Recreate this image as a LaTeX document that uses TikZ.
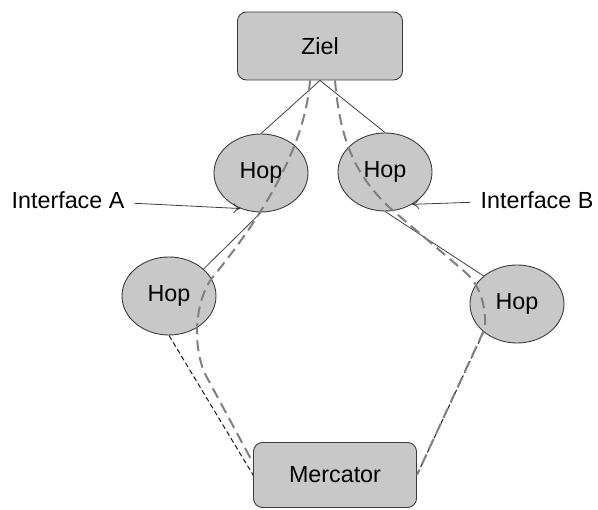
\documentclass[tikz,border=0pt]{standalone}
\usepackage{fontspec}
\setmainfont{Liberation Sans}
\usetikzlibrary{shapes.geometric,arrows.meta}
\definecolor{nodefill}{RGB}{200,200,200}
\definecolor{routegray}{RGB}{128,128,128}
\definecolor{edgegray}{RGB}{60,60,60}

\begin{document}
\begin{tikzpicture}[x=1pt,y=-1pt,-,>={To[length=7pt,width=10pt]},
  hop node/.style={ellipse,draw=edgegray,fill=nodefill,line width=0.9pt,minimum width=94pt,minimum height=78pt,inner sep=0pt,font=\fontsize{23.3}{28}\selectfont},
  box node/.style={rectangle,rounded corners=9pt,draw=edgegray,fill=nodefill,line width=0.9pt,inner sep=0pt,font=\fontsize{23.3}{28}\selectfont},
  label node/.style={inner sep=6pt,font=\fontsize{23.3}{28}\selectfont},
  link/.style={draw=black!75,line width=0.8pt},
  weak link/.style={draw=black!90,line width=1pt,dash pattern=on 5pt off 3pt},
  route/.style={draw=routegray,line width=2pt,dash pattern=on 11pt off 6pt}]
            \useasboundingbox (0,0) rectangle (598,510);

            \node[box node,minimum width=165pt,minimum height=68pt] (ziel) at (320,46) {Ziel};
            \node[hop node] (hop1) at (261,173) {Hop};
            \node[hop node] (hop2) at (385,172) {Hop};
            \node[hop node] (hop3) at (169,296) {Hop};
            \node[hop node] (hop4) at (517,304) {Hop};
            \node[box node,minimum width=163pt,minimum height=65pt] (mercator) at (335,475) {Mercator};
            \node[label node] (ifa) at (68,200) {Interface A};
            \node[label node] (ifb) at (537,200) {Interface B};

            % Verbindungen
            \path[link]
                (ziel.south) edge (hop1.north)
                (ziel.south) edge (hop2.north)
                (hop1.south) edge (hop3.38)
                (hop2.south) edge (hop4.140)
                ;
            \path[weak link]
                (hop3.south) edge (mercator.west)
                (hop4.220) edge (mercator.east)
                ;

            % Routen
            \draw[route] ([xshift=-10pt]ziel.south) .. controls (305,150) and (258,222) .. (212,278)
                .. controls (196,300) and (192,340) .. (204,372) -- ([yshift=12pt]mercator.west);
            \draw[route] ([xshift=15pt]ziel.south) .. controls (340,140) and (355,175) .. (390,208)
                -- (465,272) .. controls (480,285) and (486,305) .. (485,328) -- (mercator.east);

            % Interfaces
            \path[link,->]
                (ifa) edge[shorten <=4pt] (hop1.240)
                (ifb) edge[shorten <=4pt] (hop2.-50)
                ;
        \end{tikzpicture}
\end{document}
